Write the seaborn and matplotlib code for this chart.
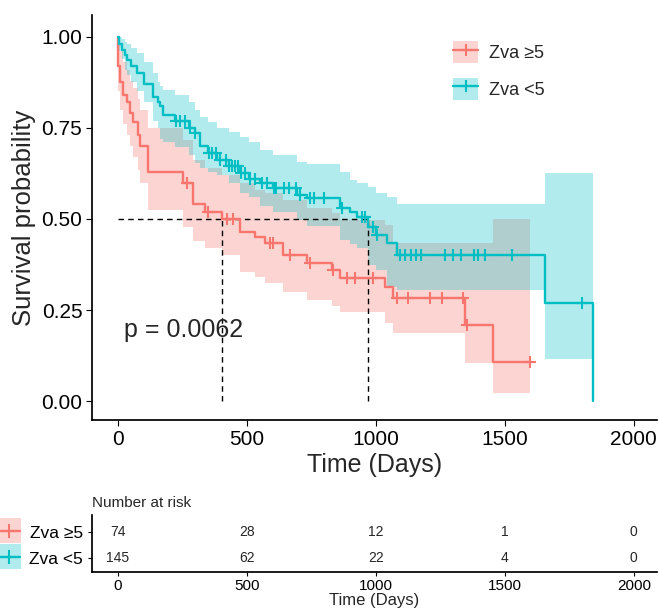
import numpy as np
import pandas as pd
import matplotlib
matplotlib.use("Agg")
import matplotlib.pyplot as plt
from matplotlib.patches import Patch, Rectangle
from matplotlib.lines import Line2D
import seaborn as sns

# --- style ---
sns.set_theme(style="ticks")
plt.rcParams['font.family'] = ['Liberation Sans', 'DejaVu Sans']
plt.rcParams['axes.edgecolor'] = 'black'
plt.rcParams['xtick.color'] = 'black'
plt.rcParams['ytick.color'] = 'black'

groups = ["Zva ≥5", "Zva <5"]
colors = ["#F8766D", "#00BFC4"]

# --- Zva >=5: KM steps (day, survival) with 95% CI, censored days ---
hi_t = [0, 2, 8, 19, 35, 47, 58, 78, 85, 116, 252, 291, 337, 403, 473, 530,
        570, 640, 733, 830, 860, 1035, 1066, 1345, 1453, 1597]
hi_s = [1.0, 0.92, 0.876, 0.84, 0.82, 0.79, 0.766, 0.73, 0.70, 0.63, 0.60, 0.54,
        0.52, 0.50, 0.465, 0.45, 0.434, 0.40, 0.378, 0.36, 0.338, 0.313, 0.283,
        0.209, 0.107, 0.107]
hi_up = [1.0, 0.985, 0.96, 0.93, 0.91, 0.88, 0.86, 0.83, 0.80, 0.75, 0.717, 0.662,
         0.64, 0.62, 0.60, 0.58, 0.571, 0.552, 0.53, 0.516, 0.497, 0.484, 0.434,
         0.434, 0.50, 0.50]
hi_lo = [1.0, 0.85, 0.80, 0.76, 0.73, 0.70, 0.67, 0.635, 0.60, 0.525, 0.478, 0.44,
         0.42, 0.40, 0.354, 0.34, 0.324, 0.30, 0.277, 0.26, 0.245, 0.214, 0.187,
         0.104, 0.022, 0.022]
hi_cens = [270, 349, 425, 445, 590, 600, 667, 744, 833, 887, 918, 988, 1081, 1124,
           1209, 1256, 1337, 1353, 1597]

# --- Zva <5 ---
lo_t = [0, 5, 15, 27, 35, 50, 74, 100, 135, 155, 163, 174, 221, 275, 300, 318, 350,
        384, 430, 473, 510, 550, 600, 694, 733, 860, 899, 926, 969, 1000, 1043, 1081,
        1655, 1841]
lo_s = [1.0, 0.98, 0.965, 0.95, 0.937, 0.92, 0.90, 0.87, 0.835, 0.82, 0.81, 0.786,
        0.77, 0.75, 0.735, 0.70, 0.68, 0.662, 0.645, 0.626, 0.61, 0.60, 0.585, 0.566,
        0.558, 0.53, 0.52, 0.505, 0.478, 0.456, 0.434, 0.40, 0.27, 0.0]
lo_up = [1.0, 1.0, 0.995, 0.986, 0.98, 0.97, 0.955, 0.93, 0.90, 0.875, 0.865, 0.855,
         0.84, 0.82, 0.80, 0.78, 0.765, 0.75, 0.74, 0.725, 0.71, 0.69, 0.675, 0.657,
         0.65, 0.63, 0.607, 0.60, 0.588, 0.57, 0.56, 0.54, 0.625, 0.625]
lo_lo = [1.0, 0.96, 0.94, 0.91, 0.895, 0.875, 0.85, 0.82, 0.77, 0.75, 0.72, 0.71,
         0.698, 0.676, 0.654, 0.64, 0.629, 0.62, 0.60, 0.57, 0.56, 0.535, 0.52, 0.497,
         0.48, 0.442, 0.43, 0.42, 0.374, 0.36, 0.313, 0.305, 0.115, 0.115]
lo_cens = [225, 240, 262, 280, 300, 352, 365, 380, 395, 420, 432, 444, 455, 466, 478,
           492, 512, 530, 560, 578, 605, 615, 645, 665, 690, 705, 745, 760, 800, 870,
           945, 958, 990, 1005, 1095, 1115, 1135, 1155, 1175, 1270, 1300, 1330, 1380,
           1395, 1425, 1527, 1798]

# --- number at risk ---
risk_times = [0, 500, 1000, 1500, 2000]
risk_hi = [74, 28, 12, 1, 0]
risk_lo = [145, 62, 22, 4, 0]
p_text = "p = 0.0062"

curves = [(hi_t, hi_s, hi_up, hi_lo, hi_cens), (lo_t, lo_s, lo_up, lo_lo, lo_cens)]

# long tables for seaborn
line_rows, cens_rows = [], []
medians = []
for g, (t, s, up, lo, cens) in zip(groups, curves):
    t = np.array(t, float)
    s = np.array(s, float)
    for a, b in zip(t, s):
        line_rows.append(dict(group=g, time=a, surv=b))
    idx = np.searchsorted(t, cens, side='right') - 1
    for c, i in zip(cens, idx):
        cens_rows.append(dict(group=g, time=c, surv=s[i]))
    medians.append(t[np.argmax(s <= 0.5)])
line_df = pd.DataFrame(line_rows)
cens_df = pd.DataFrame(cens_rows)

fig = plt.figure(figsize=(6.59, 6.14), dpi=100)
ax = fig.add_axes([92 / 659, 1 - 420 / 614, 565 / 659, 405 / 614])

# confidence bands
for (t, s, up, lo, cens), col in zip(curves, colors):
    ax.fill_between(t, lo, up, step='post', color=col, alpha=0.3, linewidth=0)

# median lines
ax.plot([0, max(medians)], [0.5, 0.5], ls=(0, (4, 3)), color='black', lw=1)
for m in medians:
    ax.plot([m, m], [0, 0.5], ls=(0, (4, 3)), color='black', lw=1)

sns.lineplot(data=line_df, x="time", y="surv", hue="group", hue_order=groups,
             palette=colors, drawstyle="steps-post", estimator=None, sort=False,
             linewidth=1.7, legend=False, ax=ax)
sns.scatterplot(data=cens_df, x="time", y="surv", hue="group", hue_order=groups,
                palette=colors, marker='+', s=75, linewidth=1.5, legend=False,
                ax=ax, zorder=5)

ax.text(25, 0.195, p_text, fontsize=18, va='center', ha='left')

ax.set_xlim(-100, 2090)
ax.set_ylim(-0.052, 1.06)
ax.set_xticks([0, 500, 1000, 1500, 2000])
ax.set_yticks([0, 0.25, 0.5, 0.75, 1.0])
ax.set_yticklabels(["0.00", "0.25", "0.50", "0.75", "1.00"])
ax.tick_params(labelsize=15, length=4, width=0.8, pad=3)
ax.set_xlabel("Time (Days)", fontsize=18, labelpad=3)
ax.set_ylabel("Survival probability", fontsize=18.5, labelpad=4)
sns.despine(ax=ax)

handles = [(Patch(facecolor=c, alpha=0.3, edgecolor='none'),
            Line2D([], [], color=c, marker='+', ms=9, mew=1.5, lw=1.7))
           for c in colors]
ax.legend(handles, groups, loc='upper left', bbox_to_anchor=(0.61, 0.975),
          frameon=False, fontsize=13, handlelength=1.4, handleheight=1.5,
          labelspacing=0.8, handletextpad=0.6)

# --- risk table ---
ax2 = fig.add_axes([92 / 659, 1 - 572 / 614, 565 / 659, 57 / 614])
for row, counts in zip([1, 0], [risk_hi, risk_lo]):
    for x, n in zip(risk_times, counts):
        ax2.text(x, row, str(n), ha='center', va='center', fontsize=10)
ax2.set_xlim(-100, 2090)
ax2.set_ylim(-0.55, 1.65)
ax2.set_xticks(risk_times)
ax2.set_yticks([1, 0])
ax2.set_yticklabels(groups)
ax2.tick_params(axis='y', labelsize=12.5, length=3, width=0.8)
ax2.tick_params(axis='x', labelsize=11, length=3, width=0.8, pad=2)
ax2.set_xlabel("Time (Days)", fontsize=12, labelpad=0)
ax2.set_title("Number at risk", loc='left', fontsize=11, pad=6)
sns.despine(ax=ax2)

# colour keys beside the risk table rows
for yc, c in zip([531, 557], colors):
    fig.add_artist(Rectangle((0, 1 - (yc + 12) / 614), 21 / 659, 25 / 614,
                             transform=fig.transFigure, facecolor=c, alpha=0.3,
                             edgecolor='none'))
    fig.add_artist(Line2D([0, 20 / 659], [1 - yc / 614] * 2, color=c, lw=1.7,
                          transform=fig.transFigure))
    fig.add_artist(Line2D([9 / 659], [1 - yc / 614], color=c, marker='+', ms=10,
                          mew=1.5, transform=fig.transFigure))

fig.savefig("out.png", dpi=100, facecolor='white')
